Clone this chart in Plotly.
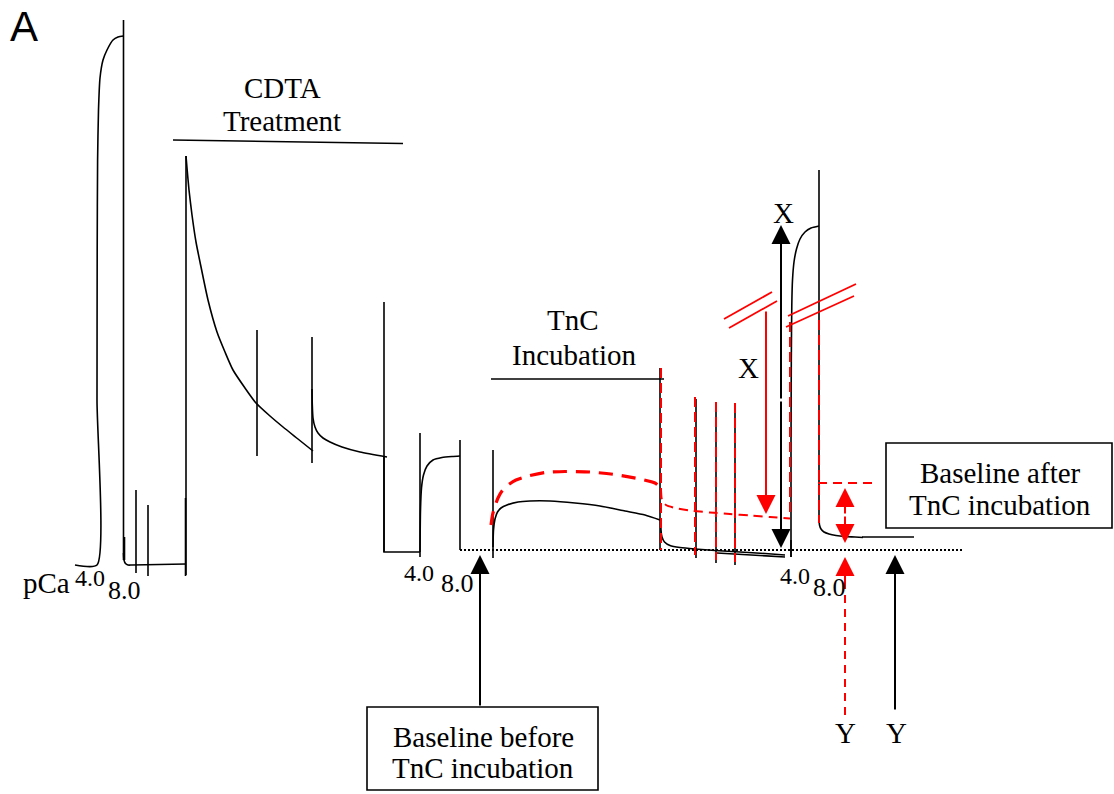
import plotly.graph_objects as go

# ---------------- data (schematic trace, pixel-space coordinates) ----------------
# black force trace segments
peak1_x = [75, 97, 97, 97.2, 97.6, 98.5, 100, 103, 107, 113, 118, 123.5]
peak1_y = [565, 565, 400, 250, 160, 110, 78, 60, 50, 40, 37, 36]
fall1_x = [123.5, 124, 125.5, 128, 132, 186]
fall1_y = [553, 560, 563.5, 565, 565, 564]
decay1_x = [186, 187, 189, 192, 196, 200, 208, 217, 225, 233, 245, 256, 270, 283, 298, 313]
decay1_y = [156, 168, 190, 215, 242, 262, 300, 332, 352, 370, 388, 403, 416, 427, 439, 451]
decay2_x = [312, 312.3, 313, 315, 318, 323, 330, 342, 360, 387]
decay2_y = [389, 405, 418, 427, 433, 438, 442, 447, 452, 457]
step_x = [384, 384, 420]
step_y = [457, 552, 552]
rise2_x = [420, 420.5, 421.5, 423.5, 427, 433, 442, 452, 460]
rise2_y = [552, 510, 488, 475, 466, 460, 457.5, 456.5, 456]
tnc_black_x = [493, 493.5, 495, 497.5, 501, 507, 518, 530, 550, 575, 600, 625, 645, 660]
tnc_black_y = [547, 530, 519, 512, 508, 505, 502, 501, 501, 503, 506, 511, 515, 520]
drop_black_x = [661, 661, 662, 664.5, 670, 680, 695, 715, 740, 765, 785]
drop_black_y = [521, 530, 537, 542, 545.5, 547.5, 549, 550.5, 552, 553.5, 555]
drop_black2_x = [717, 785]
drop_black2_y = [553, 557]
rise3_x = [791, 791, 791.3, 791.8, 792.5, 794, 796.5, 800, 805, 811, 819]
rise3_y = [557, 450, 360, 305, 280, 262, 249, 239, 232, 228, 226]
fall3_x = [819, 819.5, 821, 824, 829, 836, 845, 855, 863]
fall3_y = [518, 525, 529, 532, 534, 535.5, 536.5, 537, 537.5]
tail3_x = [862, 914]
tail3_y = [537, 537]

# black vertical ticks: x, top, bottom
vtick_x = [123.5, 124.5, 136, 148, 185.5, 186, 257, 312, 384, 420, 460, 493, 660, 696, 716, 735, 791, 819]
vtick_top = [20, 537, 490, 505, 498, 156, 330, 337, 302, 433, 440, 450, 368, 399, 402, 403, 540, 170]
vtick_bot = [560, 560, 573, 576, 576, 575, 456, 463, 552, 557, 550, 558, 550, 558, 563, 565, 557, 520]

# red (after TnC incubation) trace
tnc_red_x = [491, 492.5, 495, 498, 502, 508, 516, 528, 545, 565, 590, 615, 640, 655, 660]
tnc_red_y = [525, 515, 506, 498, 491, 485, 480, 476, 472.5, 471.5, 472, 474.5, 479, 483, 487]
drop_red_x = [661, 662, 666, 675, 690, 710, 730, 750, 770, 790]
drop_red_y = [490, 500, 505, 508, 510.5, 512.5, 514, 515.5, 517, 518.5]
# red dashed verticals: x, top, bottom
rtick_x = [661, 695, 716, 735, 790, 819]
rtick_top = [368, 397, 402, 403, 322, 320]
rtick_bot = [550, 555, 560, 562, 512, 523]
red_level_x = [818, 877]
red_level_y = [483, 483]

# red axis-break marks (pairs of parallel lines)
break_x = [[724, 772], [729, 777], [788, 856], [786, 854]]
break_y = [[319, 292], [328, 301], [316, 284], [327, 296]]

# baselines
dotted_x = [460, 962]
dotted_y = [550, 550]
cdta_bar_x = [173, 403]
cdta_bar_y = [140, 143.5]
tnc_bar_x = [491, 664]
tnc_bar_y = [379, 379]

# arrows: (x_tail, y_tail, x_tip, y_tip, colour)
arrows = [
    (781, 400, 781, 225, "black"),
    (781, 400, 781, 548, "black"),
    (766, 310, 766, 514, "red"),
    (845, 515, 845, 488, "red"),
    (845, 515, 845, 543, "red"),
    (480, 707, 480, 555, "black"),
    (895, 711, 895, 555, "black"),
    (845, 585, 845, 557, "red"),
]
red_dash_arrow_x = [845, 845]
red_dash_arrow_y = [715, 575]

# text labels: (text, x, y, size, family)
SERIF = "Liberation Serif, Times New Roman, serif"
labels = [
    ("A", 24, 26, 42, "Liberation Sans, Arial, sans-serif"),
    ("CDTA", 282, 88, 29, SERIF),
    ("Treatment", 282, 121, 29, SERIF),
    ("TnC", 573, 320, 29, SERIF),
    ("Incubation", 574, 355, 29, SERIF),
    ("pCa", 46, 583, 29, SERIF),
    ("4.0", 90, 578, 24, SERIF),
    ("8.0", 124, 590, 26, SERIF),
    ("4.0", 419, 573, 24, SERIF),
    ("8.0", 457, 583, 26, SERIF),
    ("4.0", 795, 576, 24, SERIF),
    ("8.0", 829, 587, 26, SERIF),
    ("X", 783, 213, 29, SERIF),
    ("X", 748, 368, 29, SERIF),
    ("Y", 845, 733, 29, SERIF),
    ("Y", 896, 733, 29, SERIF),
    ("Baseline before", 483, 737, 29, SERIF),
    ("TnC incubation", 483, 768, 29, SERIF),
    ("Baseline after", 1000, 473, 29, SERIF),
    ("TnC incubation", 1000, 505, 29, SERIF),
]
boxes = [(367, 707, 598, 790), (886, 443, 1112, 528)]

# ---------------- figure ----------------
fig = go.Figure()
BLK = dict(color="black", width=1.6)


def add_line(x, y, line, shape="spline"):
    fig.add_trace(go.Scatter(x=x, y=y, mode="lines", line=dict(shape=shape, smoothing=0.6, **line),
                             hoverinfo="skip", showlegend=False))


for xs, ys in [(peak1_x, peak1_y), (fall1_x, fall1_y), (decay1_x, decay1_y), (decay2_x, decay2_y),
               (rise2_x, rise2_y), (tnc_black_x, tnc_black_y), (drop_black_x, drop_black_y),
               (rise3_x, rise3_y), (fall3_x, fall3_y)]:
    add_line(xs, ys, BLK)
for xs, ys in [(step_x, step_y), (drop_black2_x, drop_black2_y), (tail3_x, tail3_y),
               (cdta_bar_x, cdta_bar_y), (tnc_bar_x, tnc_bar_y)]:
    add_line(xs, ys, BLK, shape="linear")

for xv, t, b in zip(vtick_x, vtick_top, vtick_bot):
    add_line([xv, xv], [t, b], BLK, shape="linear")

add_line(dotted_x, dotted_y, dict(color="black", width=2.2, dash="2px,2px"), shape="linear")

# red traces
add_line(tnc_red_x, tnc_red_y, dict(color="red", width=3.2, dash="14px,9px"))
add_line(drop_red_x, drop_red_y, dict(color="red", width=2, dash="9px,6px"))
for xv, t, b in zip(rtick_x, rtick_top, rtick_bot):
    add_line([xv, xv], [t, b], dict(color="red", width=2, dash="10px,5px"), shape="linear")
add_line(red_level_x, red_level_y, dict(color="red", width=2, dash="9px,6px"), shape="linear")
for bx, by in zip(break_x, break_y):
    add_line(bx, by, dict(color="red", width=1.8), shape="linear")
add_line(red_dash_arrow_x, red_dash_arrow_y, dict(color="red", width=2, dash="8px,6px"), shape="linear")

for x0, y0, x1, y1, col in arrows:
    fig.add_annotation(x=x1, y=y1, ax=x0, ay=y0, xref="x", yref="y", axref="x", ayref="y",
                       text="", showarrow=True, arrowhead=2, arrowsize=1.9, arrowwidth=2,
                       arrowcolor=col)

for x0, y0, x1, y1 in boxes:
    fig.add_shape(type="rect", x0=x0, y0=y0, x1=x1, y1=y1, xref="x", yref="y",
                  line=dict(color="black", width=1.6), fillcolor="white", layer="above")

for txt, x, y, s, fam in labels:
    fig.add_annotation(x=x, y=y, xref="x", yref="y", text=txt, showarrow=False,
                       font=dict(size=s, family=fam, color="black"), xanchor="center", yanchor="middle")

fig.update_layout(
    width=1114, height=794, margin=dict(l=0, r=0, t=0, b=0),
    paper_bgcolor="white", plot_bgcolor="white", showlegend=False,
    xaxis=dict(range=[0, 1114], visible=False, fixedrange=True),
    yaxis=dict(range=[794, 0], visible=False, fixedrange=True),
)

fig.write_html("out.html", config={"displayModeBar": False},
               post_script="document.body.style.margin='0';document.body.style.overflow='hidden';")
